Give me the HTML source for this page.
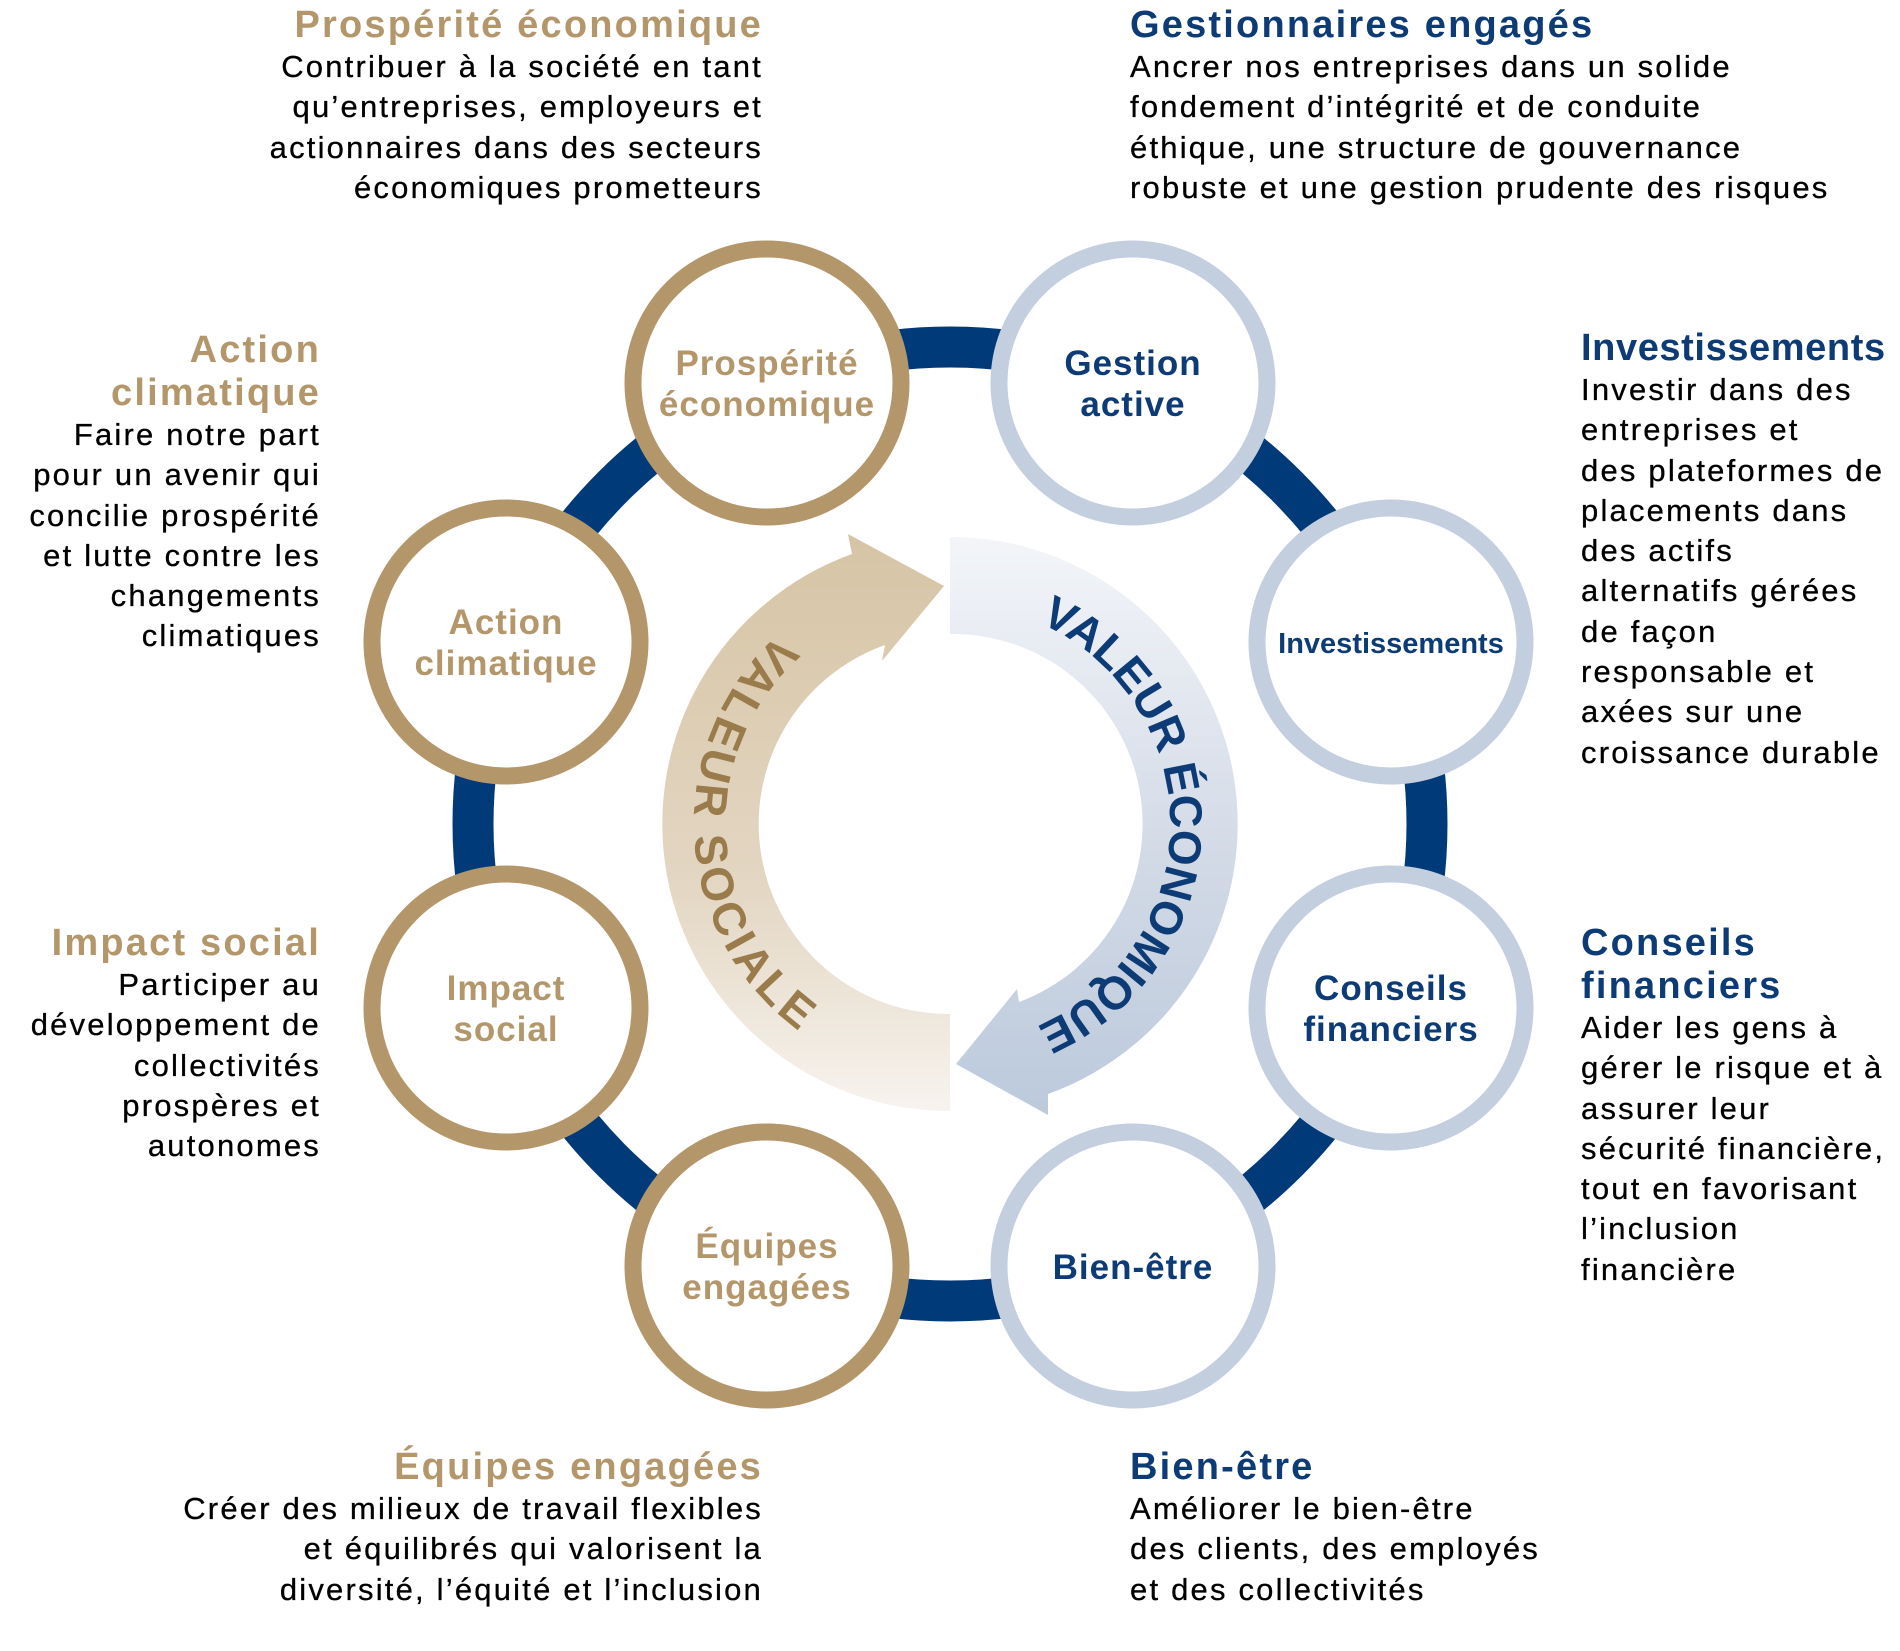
<!DOCTYPE html>
<html><head><meta charset="utf-8"><style>
html,body{margin:0;padding:0;background:#fff;}
body{width:1900px;height:1651px;position:relative;overflow:hidden;font-family:"Liberation Sans",sans-serif;}
.t{position:absolute;font-size:31px;line-height:40.3px;letter-spacing:2.2px;color:#000;white-space:nowrap;-webkit-text-stroke:0.3px #000;}
.t b{display:block;font-size:38px;line-height:43px;letter-spacing:2.2px;-webkit-text-stroke:0;}
.r{text-align:right;}
.g b{color:#b3976a;}
.n b{color:#0d3b76;}
svg{position:absolute;left:0;top:0;}
</style></head><body>
<svg width="1900" height="1651" viewBox="0 0 1900 1651">
<defs>
<linearGradient id="gs" x1="0" y1="537" x2="0" y2="1111" gradientUnits="userSpaceOnUse">
<stop offset="0" stop-color="#d6c4a5"/><stop offset="0.6" stop-color="#e3d6c2"/><stop offset="1" stop-color="#f7f3ee"/></linearGradient>
<linearGradient id="ge" x1="0" y1="537" x2="0" y2="1111" gradientUnits="userSpaceOnUse">
<stop offset="0" stop-color="#f3f5f9"/><stop offset="0.6" stop-color="#d0d8e5"/><stop offset="1" stop-color="#bccadc"/></linearGradient>
<path id="ps" d="M778.7,633.8 A256,256 0 0 0 803.1,1033.7"/>
<path id="pe" d="M1039.5,622.9 A220,220 0 0 1 1032.4,1028"/>
</defs>
<circle cx="950" cy="824" r="477" fill="none" stroke="#003a78" stroke-width="41"/>
<path d="M950,1111 A287,287 0 0 1 852,554 L848,534 L944,586 L882,661 L885,645 A190,190 0 0 0 950,1014 Z" fill="url(#gs)"/>
<path d="M950,537 A287,287 0 0 1 1048,1094 L1048,1115 L956,1064 L1017,989 L1019,1002 A190,190 0 0 0 950,634 Z" fill="url(#ge)"/>
<text font-family="Liberation Sans, sans-serif" font-weight="bold" font-size="46" fill="#9a7b4c"><textPath href="#ps" textLength="455" lengthAdjust="spacing">VALEUR SOCIALE</textPath></text>
<text font-family="Liberation Sans, sans-serif" font-weight="bold" font-size="46" fill="#0d3b76"><textPath href="#pe" textLength="510" lengthAdjust="spacing">VALEUR ÉCONOMIQUE</textPath></text>
<g fill="#fff" stroke-width="17">
<circle cx="767" cy="383" r="134" stroke="#b3976a"/>
<circle cx="1133" cy="383" r="134" stroke="#c3cedf"/>
<circle cx="1391" cy="642" r="134" stroke="#c3cedf"/>
<circle cx="1391" cy="1008" r="134" stroke="#c3cedf"/>
<circle cx="1133" cy="1266" r="134" stroke="#c3cedf"/>
<circle cx="767" cy="1266" r="134" stroke="#b3976a"/>
<circle cx="506" cy="1008" r="134" stroke="#b3976a"/>
<circle cx="506" cy="642" r="134" stroke="#b3976a"/>
</g>
<g font-family="Liberation Sans, sans-serif" font-weight="bold" font-size="35" letter-spacing="1" text-anchor="middle">
<g fill="#b3976a">
<text x="767" y="375">Prospérité</text><text x="767" y="416">économique</text>
<text x="506" y="634">Action</text><text x="506" y="675">climatique</text>
<text x="506" y="1000">Impact</text><text x="506" y="1041">social</text>
<text x="767" y="1258">Équipes</text><text x="767" y="1299">engagées</text>
</g>
<g fill="#0d3b76">
<text x="1133" y="375">Gestion</text><text x="1133" y="416">active</text>
<text x="1391" y="653" font-size="29" letter-spacing="0">Investissements</text>
<text x="1391" y="1000">Conseils</text><text x="1391" y="1041">financiers</text>
<text x="1133" y="1279">Bien-être</text>
</g>
</g>
</svg>

<div class="t r g" style="right:1137px;top:4px;"><b>Prospérité économique</b>Contribuer à la société en tant<br>qu’entreprises, employeurs et<br>actionnaires dans des secteurs<br>économiques prometteurs</div>
<div class="t n" style="left:1130px;top:4px;"><b>Gestionnaires engagés</b>Ancrer nos entreprises dans un solide<br>fondement d’intégrité et de conduite<br>éthique, une structure de gouvernance<br>robuste et une gestion prudente des risques</div>
<div class="t n" style="left:1581px;top:327px;"><b style="letter-spacing:0.6px">Investissements</b>Investir dans des<br>entreprises et<br>des plateformes de<br>placements dans<br>des actifs<br>alternatifs gérées<br>de façon<br>responsable et<br>axées sur une<br>croissance durable</div>
<div class="t r g" style="right:1579px;top:329px;"><b>Action<br>climatique</b>Faire notre part<br>pour un avenir qui<br>concilie prospérité<br>et lutte contre les<br>changements<br>climatiques</div>
<div class="t r g" style="right:1579px;top:922px;"><b>Impact social</b>Participer au<br>développement de<br>collectivités<br>prospères et<br>autonomes</div>
<div class="t n" style="left:1581px;top:922px;"><b>Conseils<br>financiers</b>Aider les gens à<br>gérer le risque et à<br>assurer leur<br>sécurité financière,<br>tout en favorisant<br>l’inclusion<br>financière</div>
<div class="t r g" style="right:1137px;top:1446px;"><b>Équipes engagées</b>Créer des milieux de travail flexibles<br>et équilibrés qui valorisent la<br>diversité, l’équité et l’inclusion</div>
<div class="t n" style="left:1130px;top:1446px;"><b>Bien-être</b>Améliorer le bien-être<br>des clients, des employés<br>et des collectivités</div>
</body></html>
